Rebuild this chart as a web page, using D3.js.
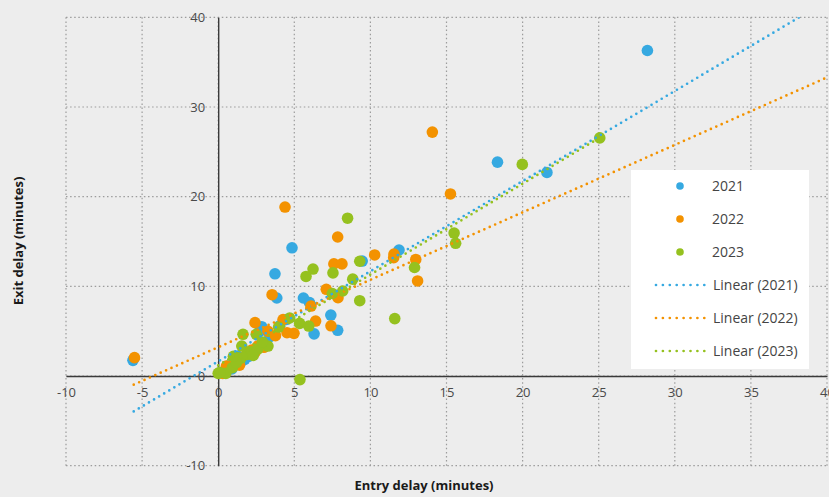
<!DOCTYPE html>
<html>
<head>
<meta charset="utf-8">
<script src="https://cdn.jsdelivr.net/npm/d3@7/dist/d3.min.js"></script>
<style>
  html, body { margin: 0; padding: 0; background: #ededed; }
  svg { display: block; font-family: "Open Sans", "Noto Sans", sans-serif; }
</style>
</head>
<body>
<div id="chart"></div>
<script>
// values: [entry delay, exit delay]
const pts2021 = [
  [-5.6, 1.75], [28.2, 36.3], [18.35, 23.85], [21.6, 22.7], [11.88, 14.05],
  [9.46, 12.82], [4.85, 14.3], [3.73, 11.4], [3.85, 8.7], [5.6, 8.7],
  [6.0, 8.2], [7.4, 6.8], [7.85, 5.1], [6.3, 4.7], [4.48, 6.3],
  [4.04, 5.6], [2.86, 5.5], [2.73, 5.0], [1.74, 1.86], [0.64, 1.1],
  [1.28, 2.23], [2.0, 2.2], [2.3, 2.6], [3.0, 3.5], [1.5, 1.6],
  [0.9, 0.8], [3.4, 4.4], [2.5, 3.0]
];
const pts2022 = [
  [-5.5, 2.05], [14.07, 27.2], [15.26, 20.3], [4.39, 18.84], [7.85, 15.5],
  [7.6, 12.5], [8.13, 12.5], [10.28, 13.5], [11.55, 13.6], [11.53, 13.2],
  [12.98, 13.0], [13.1, 10.6], [3.54, 9.07], [7.1, 9.67], [7.87, 8.74],
  [6.1, 7.8], [6.4, 6.13], [7.41, 5.6], [2.42, 5.95], [4.26, 6.3],
  [4.52, 4.83], [4.98, 4.76], [3.27, 5.0], [3.76, 4.5], [2.6, 3.34],
  [2.4, 2.6], [1.08, 1.86], [0.54, 1.1], [1.9, 2.5], [3.0, 3.2],
  [0.3, 0.3], [1.4, 1.2], [2.2, 2.9]
];
const pts2023 = [
  [25.07, 26.55], [19.98, 23.6], [15.5, 15.94], [15.6, 14.8], [8.5, 17.6],
  [6.23, 11.93], [5.77, 11.1], [7.54, 11.5], [9.3, 12.8], [8.84, 10.8],
  [8.18, 9.48], [7.5, 9.2], [9.3, 8.4], [12.9, 12.1], [11.6, 6.4],
  [5.35, 5.87], [5.95, 5.57], [4.7, 6.47], [3.97, 5.46], [2.5, 4.65],
  [1.63, 4.65], [1.55, 3.34], [3.27, 3.34], [5.37, -0.4], [0.0, 0.3],
  [0.5, 0.3], [0.93, 0.93], [0.1, 0.4], [1.5, 2.0], [1.9, 2.4],
  [2.2, 2.7], [2.6, 3.0], [1.2, 1.5], [2.9, 3.8], [1.0, 2.2], [2.3, 2.3]
];

const YEARS = ["2021", "2022", "2023"];
const COLORS = ["#36a9e1", "#f39200", "#95c11f"];

// linear trendlines
const TREND_SLOPE = [1.005, 0.752, 1.013];
const TREND_INTERCEPT = [1.63, 3.21, 1.18];
const TREND_FROM = [-5.55, -5.55, 0];
const TREND_TO = [40, 40, 25.1];

const TICKS = [-10, -5, 0, 5, 10, 15, 20, 25, 30, 35, 40];
const Y_TICKS = [-10, 0, 10, 20, 30, 40];

const W = 829, H = 497;
const svg = d3.select("#chart").append("svg")
  .attr("width", W).attr("height", H);

const x = d3.scaleLinear().domain([-10, 40]).range([66, 827]);
const y = d3.scaleLinear().domain([-10, 40]).range([465.7, 17.3]);

// gridlines (dotted)
const grid = svg.append("g")
  .attr("stroke", "#9c9c9c").attr("stroke-width", 1.2)
  .attr("stroke-dasharray", "1.5,2.6");
grid.selectAll("line.gx").data(TICKS).join("line").attr("class", "gx")
  .attr("x1", d => x(d)).attr("x2", d => x(d))
  .attr("y1", y(40)).attr("y2", y(-10));
grid.selectAll("line.gy").data(Y_TICKS).join("line").attr("class", "gy")
  .attr("x1", x(-10)).attr("x2", x(40))
  .attr("y1", d => y(d)).attr("y2", d => y(d));

// axis lines through the origin (plain hyphen for negatives, like the source)
const fmt = d => String(d);

svg.append("g")
  .attr("transform", `translate(0,${y(0)})`)
  .call(d3.axisBottom(x).tickValues(TICKS).tickSize(0).tickPadding(12).tickFormat(fmt))
  .call(g => g.select(".domain").attr("stroke", "#3a3a3a").attr("stroke-width", 1.4))
  .call(g => g.selectAll("text").attr("fill", "#4a4a4a").style("font-size", "13px")
    .style("font-family", "'Open Sans', sans-serif"));

svg.append("g")
  .attr("transform", `translate(${x(0)},0)`)
  .call(d3.axisLeft(y).tickValues(Y_TICKS).tickSize(0).tickPadding(13).tickFormat(fmt))
  .call(g => g.select(".domain").attr("stroke", "#3a3a3a").attr("stroke-width", 1.4))
  .call(g => g.selectAll("text").attr("fill", "#4a4a4a").style("font-size", "13px")
    .style("font-family", "'Open Sans', sans-serif"));

// points
const series = [pts2021, pts2022, pts2023];
series.forEach((pts, i) => {
  svg.append("g").attr("fill", COLORS[i])
    .selectAll("circle").data(pts).join("circle")
    .attr("cx", d => x(d[0])).attr("cy", d => y(d[1]))
    .attr("r", 5.8);
});

// trendlines, clipped to the plot area
svg.append("clipPath").attr("id", "plot")
  .append("rect")
  .attr("x", x(-10)).attr("y", y(40))
  .attr("width", x(40) - x(-10)).attr("height", y(-10) - y(40));

const trend = svg.append("g").attr("clip-path", "url(#plot)");
YEARS.forEach((yr, i) => {
  const a = TREND_FROM[i], b = TREND_TO[i];
  trend.append("line")
    .attr("x1", x(a)).attr("y1", y(TREND_SLOPE[i] * a + TREND_INTERCEPT[i]))
    .attr("x2", x(b)).attr("y2", y(TREND_SLOPE[i] * b + TREND_INTERCEPT[i]))
    .attr("stroke", COLORS[i]).attr("stroke-width", 2.7)
    .attr("stroke-linecap", "round").attr("stroke-dasharray", "0,5.9");
});

// axis titles
svg.append("text")
  .attr("transform", `translate(23,241) rotate(-90)`)
  .attr("text-anchor", "middle")
  .style("font-size", "13px").style("font-weight", 700).attr("fill", "#1a1a1a")
  .text("Exit delay (minutes)");

svg.append("text")
  .attr("x", 424).attr("y", 490)
  .attr("text-anchor", "middle")
  .style("font-size", "13px").style("font-weight", 700).attr("fill", "#1a1a1a")
  .text("Entry delay (minutes)");

// legend
const legend = svg.append("g").attr("transform", "translate(631,170)");
legend.append("rect").attr("width", 178).attr("height", 199).attr("fill", "#fff");

const rowY = i => 16 + i * 33;
YEARS.forEach((yr, i) => {
  legend.append("circle").attr("cx", 49).attr("cy", rowY(i)).attr("r", 3.8).attr("fill", COLORS[i]);
  legend.append("text").attr("x", 81).attr("y", rowY(i)).attr("dy", "0.35em")
    .style("font-size", "14px").attr("fill", "#444").text(yr);
});
YEARS.forEach((yr, i) => {
  const ry = rowY(i + 3);
  legend.append("line")
    .attr("x1", 25).attr("x2", 74).attr("y1", ry).attr("y2", ry)
    .attr("stroke", COLORS[i]).attr("stroke-width", 2.7)
    .attr("stroke-linecap", "round").attr("stroke-dasharray", "0,6.9");
  legend.append("text").attr("x", 82).attr("y", ry).attr("dy", "0.35em")
    .style("font-size", "14px").attr("fill", "#444").text(`Linear (${yr})`);
});
</script>
</body>
</html>
